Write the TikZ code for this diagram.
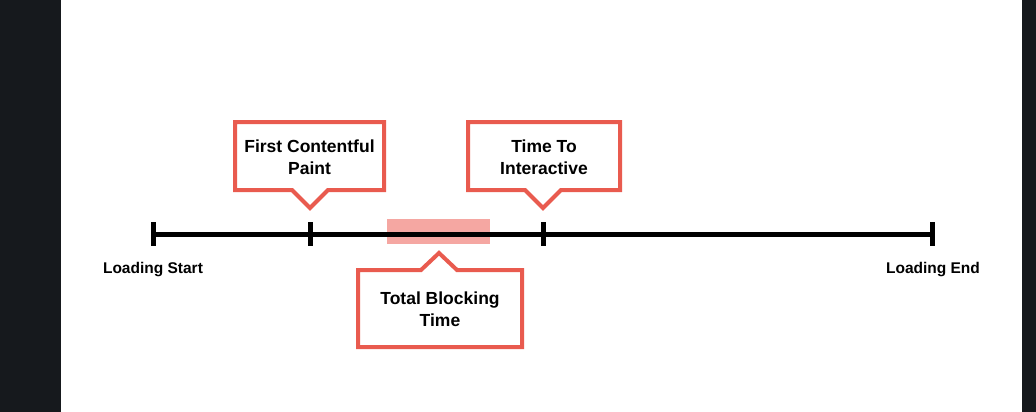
\documentclass[tikz,border=0pt]{standalone}
\usepackage{fontspec}
\setmainfont{Liberation Sans}
\definecolor{calloutred}{HTML}{E95B4F}
\definecolor{blockpink}{HTML}{F5A7A2}
\definecolor{panel}{HTML}{16191D}

\begin{document}
\begin{tikzpicture}[x=1pt,y=-1pt,
    callout/.style={draw=calloutred,line width=4pt,fill=white,line join=miter},
    tickline/.style={line width=5pt},
    boxtext/.style={font=\bfseries\fontsize{17.5}{22.5}\selectfont,align=center,inner sep=0pt},
    endtext/.style={font=\bfseries\fontsize{15.5}{18}\selectfont,inner sep=0pt}]
  \useasboundingbox (0,0) rectangle (1036,412);
  \fill[panel] (0,0) rectangle (61,412);
  \fill[panel] (1022,0) rectangle (1036,412);

  \fill[blockpink] (387,219) rectangle (490,244);
  \coordinate (start) at (153,234);
  \coordinate (fcptick) at (310,234);
  \coordinate (ttitick) at (543,234);
  \coordinate (end) at (932,234);
  \draw[tickline] (start) -- (end);
  \foreach \t in {start,fcptick,ttitick,end}
    \draw[tickline] ([yshift=12pt]\t) -- ([yshift=-12pt]\t);

  \node[endtext] (loadstart) at (153,270) {Loading Start};
  \node[endtext] (loadend) at (933,270) {Loading End};

  \coordinate (fcptip) at (310,208);
  \draw[callout] (235,190) -- (235,122) -- (384,122) -- (384,190) -- (328,190) -- (fcptip) -- (292,190) -- cycle;
  \node[boxtext] (fcp) at (309.5,157) {First Contentful\\Paint};

  \coordinate (ttitip) at (543,208);
  \draw[callout] (468,190) -- (468,122) -- (620,122) -- (620,190) -- (561,190) -- (ttitip) -- (525,190) -- cycle;
  \node[boxtext] (tti) at (544,157) {Time To\\Interactive};

  \coordinate (tbttip) at (439,253);
  \draw[callout] (358,270) -- (421,270) -- (tbttip) -- (457,270) -- (522,270) -- (522,347) -- (358,347) -- cycle;
  \node[boxtext] (tbt) at (440,309) {Total Blocking\\Time};
\end{tikzpicture}
\end{document}
